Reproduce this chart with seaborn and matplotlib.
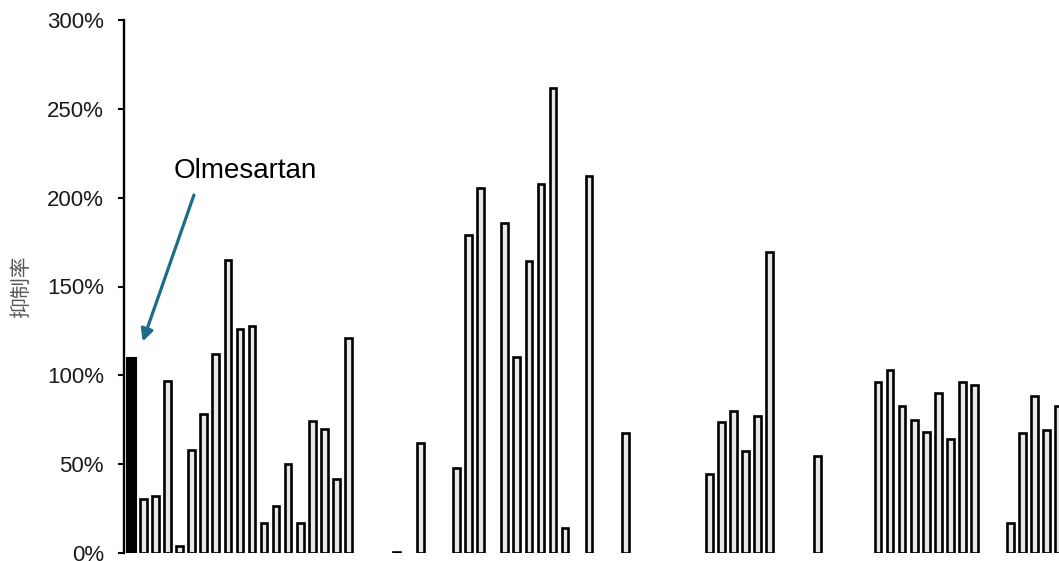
"""Inhibition rate bar chart (抑制率) with the Olmesartan control bar."""
import numpy as np
import pandas as pd
import seaborn as sns
import matplotlib
matplotlib.use("Agg")
import matplotlib.pyplot as plt
from matplotlib.ticker import FuncFormatter

sns.set_theme(style="white")
plt.rcParams["font.family"] = ["Liberation Sans", "Noto Sans CJK SC", "DejaVu Sans"]

# one entry per slot on the x axis; None = empty slot (gap between groups)
inhibition = [
    110, 30.5, 32, 97, 4, 58, 78, 112, 165, 126, 128, 17, 26.5, 50, 17, 74.5, 70, 41.5, 121,
    None, None, None, 0.5, None, 62, None, None,
    48, 179, 205.5, None, 186, 110.5, 164.5, 207.5, 262, 14, None, 212, None, None, 67.5,
    None, None, None, None, None, None,
    44.5, 73.5, 80, 57.5, 77, 169.5, None, None, None, 54.5, None, None, None, None,
    96, 103, 83, 75, 68, 90, 64, 96.5, 94.5, None, None,
    17, 67.5, 88.5, 69, 83,
]
control_slot = 0          # Olmesartan, positive control
control_name = "Olmesartan"
ytick_values = [0, 50, 100, 150, 200, 250, 300]

slots = list(range(len(inhibition)))
df = pd.DataFrame({"slot": slots, "rate": inhibition}).dropna()
df["group"] = np.where(df["slot"] == control_slot, "control", "compound")

fig = plt.figure(figsize=(10.59, 5.61), dpi=100)
ax = fig.add_axes([124 / 1059, 8 / 561, 935 / 1059, 533 / 561])

sns.barplot(data=df[df["group"] == "compound"], x="slot", y="rate", order=slots,
            color="#e8e8e8", saturation=1, width=0.56,
            edgecolor="black", linewidth=1.9, ax=ax)
sns.barplot(data=df[df["group"] == "control"], x="slot", y="rate", order=slots,
            color="black", saturation=1, width=0.8,
            edgecolor="black", linewidth=1.5, ax=ax)

ax.set_xlim(-0.63, 77.03)
ax.set_ylim(0, 300)
ax.set_yticks(ytick_values)
ax.yaxis.set_major_formatter(FuncFormatter(lambda v, _: f"{v:.0f}%"))
ax.set_xticks([])
ax.set_xlabel("")

for side in ["top", "right", "bottom"]:
    ax.spines[side].set_visible(False)
ax.spines["left"].set_color("black")
ax.spines["left"].set_linewidth(1.7)
ax.tick_params(axis="y", direction="out", length=4.5, width=1.5, color="black",
               pad=10, labelsize=16, labelcolor="#1a1a1a", left=True)

ax.set_ylabel("抑制率", fontsize=15, color="#595959")
ax.yaxis.set_label_coords(-0.099, 0.5)

# arrow pointing at the control bar
ax.annotate("", xy=(0.92, 119), xytext=(5.18, 201.5),
            arrowprops=dict(arrowstyle="-|>", color="#1f6b8a", lw=2.3,
                            mutation_scale=18, shrinkA=0, shrinkB=0))
ax.text(9.42, 211, control_name, fontsize=20, color="black",
        ha="center", va="baseline")

fig.savefig("out.png", dpi=100)
